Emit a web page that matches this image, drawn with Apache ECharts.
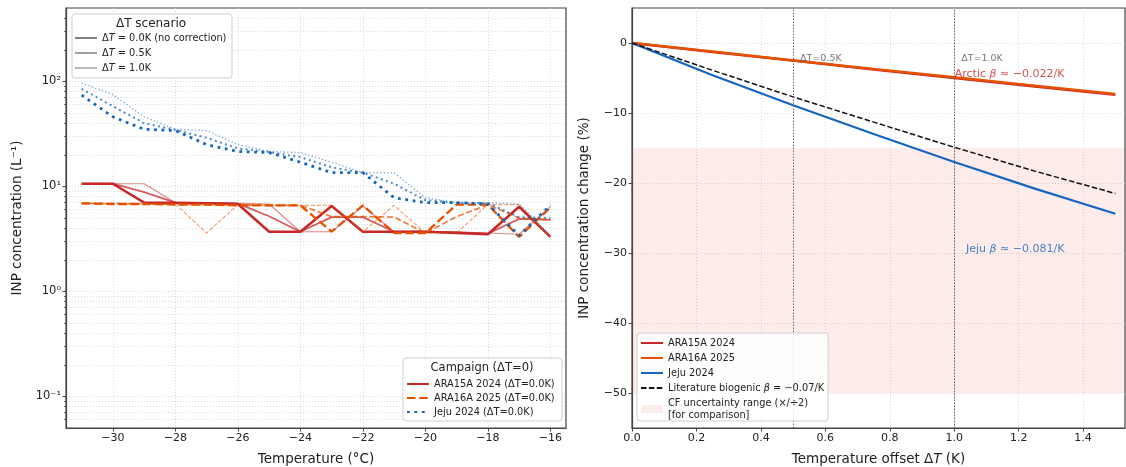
<!DOCTYPE html>
<html><head><meta charset="utf-8">
<script src="https://cdn.jsdelivr.net/npm/echarts@6/dist/echarts.min.js"></script>
<style>html,body{margin:0;padding:0;background:#fff}#c{width:1126px;height:467px}</style>
</head><body><div id="c"></div>
<script>
// ---------------- data ----------------
const temps = [-31,-30,-29,-28,-27,-26,-25,-24,-23,-22,-21,-20,-19,-18,-17,-16];
const ara15a_dT00 = [10.6,10.6,7.0,7.0,6.9,6.8,3.7,3.7,6.5,3.7,3.7,3.7,3.6,3.5,6.4,3.3];
const ara15a_dT05 = [10.6,10.6,8.8,7.0,6.95,6.85,5.2,3.7,5.1,5.1,3.7,3.7,3.65,3.55,4.9,4.8];
const ara15a_dT10 = [10.6,10.6,10.6,7.0,7.0,6.9,6.8,3.7,3.7,6.5,3.7,3.7,3.7,3.6,3.5,6.4];
const ara16a_dT00 = [6.9,6.8,6.8,6.7,6.7,6.6,6.6,6.6,3.7,6.6,3.6,3.6,6.7,6.7,3.3,6.3];
const ara16a_dT05 = [6.9,6.85,6.8,6.75,6.7,6.65,6.6,6.6,5.15,5.15,5.1,3.6,5.15,6.7,5.0,4.8];
const ara16a_dT10 = [6.9,6.9,6.8,6.8,3.6,6.7,6.6,6.6,6.6,3.7,6.6,3.6,3.6,6.7,6.7,3.3];
const jeju_dT00 = [74,46,35,34,25,21.5,21,17,13.5,13.5,7.8,7.0,7.0,6.8,3.4,6.6];
const jeju_dT05 = [85,58,40,34.5,29,23,21.2,19,15.2,13.5,10.6,7.4,7.0,6.9,5.1,5.0];
const jeju_dT10 = [96,75,46,35,34,25,21.5,21,17,13.5,13.5,7.8,7.0,7.0,6.8,3.4];

const dTOffsets = [0,0.25,0.5,0.75,1.0,1.25,1.5];
const ara15a_change = [0,-1.3,-2.5,-3.8,-5.0,-6.2,-7.4];
const ara16a_change = [0,-1.2,-2.5,-3.7,-4.9,-6.1,-7.3];
const jeju_change = [0,-4.6,-8.9,-13.0,-17.0,-20.8,-24.4];
const literature_change = [0,-3.9,-7.7,-11.3,-14.9,-18.3,-21.5];
const cfBand = [-15,-50];
const refLinesDT = [0.5,1.0];

const leftXTicks = [-30,-28,-26,-24,-22,-20,-18,-16];
const leftYMajor = [0.1,1,10,100];
const leftYMinor = [0.06,0.07,0.08,0.09,0.2,0.3,0.4,0.5,0.6,0.7,0.8,0.9,2,3,4,5,6,7,8,9,20,30,40,50,60,70,80,90,200,300,400];
const leftYLabels = {0.1:'10⁻¹',1:'10⁰',10:'10¹',100:'10²'};
const rightXTicks = [0,0.2,0.4,0.6,0.8,1.0,1.2,1.4];
const rightYTicks = [0,-10,-20,-30,-40,-50];

const annotTexts = ['ΔT=0.5K','ΔT=1.0K','Arctic {b|β} ≈ −0.022/K','Jeju {b|β} ≈ −0.081/K'];
const annotX = [0.52,1.02,1.0,1.035];
const annotY = [-2.2,-2.2,-4.4,-29.4];

// ---------------- styles ----------------
const RED='#c62828', ORANGE='#e65100', BLUE='#1565c0';
const FONT='DejaVu Sans';
const TXT='#222';
const SPINE='#444';
const TICKFS = 11;
const gridLine = {show:true, lineStyle:{type:[1,2], color:'#d2d2d2', width:0.8}};
const minus = v => String(v).replace('-', '−');

const scen = [{w:1, o:1}, {w:0.72, o:0.75}, {w:0.48, o:0.55}];
const campaigns = [
  {name:'ARA15A 2024 (ΔT=0.0K)', color:RED, dash:'solid', lw:2.5, sets:[ara15a_dT00, ara15a_dT05, ara15a_dT10]},
  {name:'ARA16A 2025 (ΔT=0.0K)', color:ORANGE, dash:'dashed', lw:2.3, sets:[ara16a_dT00, ara16a_dT05, ara16a_dT10]},
  {name:'Jeju 2024 (ΔT=0.0K)', color:BLUE, dash:'dotted', lw:2.8, sets:[jeju_dT00, jeju_dT05, jeju_dT10]}
];
function dashArr(kind, lw){
  if (kind==='dashed') return [3.7*lw, 1.6*lw];
  if (kind==='dotted') return [1*lw, 1.65*lw];
  return 'solid';
}
const series = [];
campaigns.forEach(c => {
  c.sets.forEach((vals, k) => {
    const lw = c.lw*scen[k].w;
    series.push({
      type:'line', name: k===0 ? c.name : c.name + '#' + k,
      xAxisIndex:0, yAxisIndex:0, symbol:'none', silent:true,
      data: temps.map((t,i)=>[t, vals[i]]),
      lineStyle:{color:c.color, width:lw, type:dashArr(c.dash,lw), cap:'butt', opacity:scen[k].o},
      itemStyle:{color:c.color}, z: 3
    });
  });
});
// dummy series for the ΔT scenario legend
['dT0','dT05','dT10'].forEach((n,k)=>{
  series.push({type:'line', name:n, xAxisIndex:0, yAxisIndex:0, symbol:'none', data:[],
    lineStyle:{color:'#808080', width:2.5*scen[k].w, opacity:scen[k].o}, itemStyle:{color:'#808080'}});
});
// right panel
series.push({type:'line', name:'cf', xAxisIndex:1, yAxisIndex:2, symbol:'none', data:[],
  itemStyle:{color:'rgba(244,67,54,0.1)'}, lineStyle:{width:0},
  markArea:{silent:true, itemStyle:{color:'rgba(244,67,54,0.1)'}, data:[[{yAxis:cfBand[0]},{yAxis:cfBand[1]}]]}});
const rightLines = [
  {name:'ARA15A 2024', data:ara15a_change, color:RED, w:2.5, type:'solid'},
  {name:'ARA16A 2025', data:ara16a_change, color:ORANGE, w:2.5, type:'solid'},
  {name:'Jeju 2024', data:jeju_change, color:BLUE, w:2.2, type:'solid'},
  {name:'lit', data:literature_change, color:'#111', w:1.5, type:[5.5,2.4]}
];
rightLines.forEach(r=>{
  series.push({type:'line', name:r.name, xAxisIndex:1, yAxisIndex:2, symbol:'none', silent:true,
    data:dTOffsets.map((x,i)=>[x, r.data[i]]),
    lineStyle:{color:r.color, width:r.w, type:r.type, cap:'butt'}, itemStyle:{color:r.color}, z:4});
});
series.push({type:'line', name:'refDT', xAxisIndex:1, yAxisIndex:2, symbol:'none', data:[],
  markLine:{silent:true, symbol:'none', label:{show:false}, animation:false,
    lineStyle:{color:'#666', type:[1.5,1.5], width:1},
    data: refLinesDT.map(v=>({xAxis:v}))}});
const annotStyles = [
  {color:'#555', fontSize:9.5}, {color:'#555', fontSize:9.5},
  {color:RED, fontSize:11}, {color:BLUE, fontSize:11}
];
series.push({type:'scatter', name:'annot', xAxisIndex:1, yAxisIndex:2, symbolSize:1, silent:true,
  itemStyle:{color:'transparent'}, z:6,
  data: annotTexts.map((t,i)=>({value:[annotX[i], annotY[i]],
    label:{show:true, position:'right', distance:0, formatter:t,
      color:annotStyles[i].color, fontSize:annotStyles[i].fontSize, fontFamily:FONT,
      rich:{b:{fontStyle:'italic', color:annotStyles[i].color, fontSize:annotStyles[i].fontSize, fontFamily:FONT}}}}))
});

const legendNames = {
  'dT0':'Δ{i|T} = 0.0K (no correction)', 'dT05':'Δ{i|T} = 0.5K', 'dT10':'Δ{i|T} = 1.0K',
  'lit':'Literature biogenic {i|β} = −0.07/K', 'cf':'CF uncertainty range (×/÷2)\n[for comparison]'
};
const legText = {fontSize:9.8, color:TXT, fontFamily:FONT, lineHeight:12,
  rich:{i:{fontStyle:'italic', fontSize:9.8, fontFamily:FONT, color:TXT, lineHeight:12}}};
const fmt = n => legendNames[n] || n;
const noSym = {opacity:0, borderWidth:0};

const option = {
  animation:false,
  textStyle:{fontFamily:FONT},
  grid:[
    {left:66, top:8, width:500, height:420, show:true, borderColor:SPINE, borderWidth:1.2, backgroundColor:'transparent', containLabel:false, outerBoundsMode:'none'},
    {left:632, top:8, width:493, height:420, show:true, borderColor:SPINE, borderWidth:1.2, backgroundColor:'transparent', containLabel:false, outerBoundsMode:'none'}
  ],
  xAxis:[
    {gridIndex:0, type:'value', min:-31.5, max:-15.5, position:'bottom',
     axisLine:{onZero:false, lineStyle:{color:SPINE, width:1.2}},
     axisTick:{show:true, length:3.5, customValues:leftXTicks, lineStyle:{color:SPINE}},
     axisLabel:{customValues:leftXTicks, formatter:v=>minus(v), color:TXT, fontSize:TICKFS, margin:5},
     splitLine:gridLine,
     name:'Temperature (°C)', nameLocation:'middle', nameGap:24, nameTextStyle:{fontSize:13.5, color:TXT}},
    {gridIndex:1, type:'value', min:0, max:1.53, position:'bottom',
     axisLine:{onZero:false, lineStyle:{color:SPINE, width:1.2}},
     axisTick:{show:true, length:3.5, customValues:rightXTicks, lineStyle:{color:SPINE}},
     axisLabel:{customValues:rightXTicks, formatter:v=>v.toFixed(1), color:TXT, fontSize:TICKFS, margin:5},
     splitLine:gridLine,
     name:'{n|Temperature offset Δ}{i|T}{n| (K)}', nameLocation:'middle', nameGap:24,
     nameTextStyle:{fontSize:13.5, color:TXT, rich:{n:{fontSize:13.5, color:TXT, fontFamily:FONT}, i:{fontSize:13.5, color:TXT, fontStyle:'italic', fontFamily:FONT}}}}
  ],
  yAxis:[
    {gridIndex:0, type:'log', min:0.05, max:500, position:'left', offset:0,
     axisLine:{onZero:false, lineStyle:{color:SPINE, width:1.2}},
     axisTick:{show:true, length:3.5, customValues:leftYMajor, lineStyle:{color:SPINE}},
     axisLabel:{customValues:leftYMajor, formatter:v=>leftYLabels[v] || '', color:TXT, fontSize:TICKFS+0.5, margin:5},
     splitLine:gridLine,
     name:'INP concentration (L⁻¹)', nameLocation:'middle', nameGap:42, nameTextStyle:{fontSize:13.5, color:TXT}},
    {gridIndex:0, type:'log', min:0.05, max:500, position:'left', offset:0,
     axisLine:{show:false, onZero:false},
     axisTick:{show:true, length:2, customValues:leftYMinor, lineStyle:{color:SPINE, width:0.8}},
     axisLabel:{show:false},
     splitLine:gridLine},
    {gridIndex:1, type:'value', min:-55, max:5, position:'left',
     axisLine:{onZero:false, lineStyle:{color:SPINE, width:1.2}},
     axisTick:{show:true, length:3.5, customValues:rightYTicks, lineStyle:{color:SPINE}},
     axisLabel:{customValues:rightYTicks, formatter:v=>minus(v), color:TXT, fontSize:TICKFS, margin:5},
     splitLine:gridLine,
     name:'INP concentration change (%)', nameLocation:'middle', nameGap:41, nameTextStyle:{fontSize:13.5, color:TXT}}
  ],
  legend:[
    {data:['dT0','dT05','dT10'], orient:'vertical', left:74, top:32, itemWidth:22, itemHeight:10, itemGap:3,
     padding:0, formatter:fmt, textStyle:legText, selectedMode:false, z:60, itemStyle:noSym},
    {data:['ARA15A 2024 (ΔT=0.0K)','ARA16A 2025 (ΔT=0.0K)','Jeju 2024 (ΔT=0.0K)'], orient:'vertical', left:406, top:378,
     itemWidth:22, itemHeight:10, itemGap:2, padding:0, formatter:fmt, textStyle:legText, selectedMode:false, z:60, itemStyle:noSym},
    {data:['ARA15A 2024','ARA16A 2025','Jeju 2024','lit',{name:'cf', icon:'rect', itemStyle:{color:'rgba(244,67,54,0.1)', opacity:1}}],
     orient:'vertical', left:640, top:337, itemWidth:22, itemHeight:8, itemGap:3, padding:0,
     formatter:fmt, textStyle:legText, selectedMode:false, z:60, itemStyle:noSym}
  ],
  graphic:[
    {type:'rect', z:50, shape:{x:72, y:14, width:160, height:64, r:3}, style:{fill:'rgba(255,255,255,0.85)', stroke:'#d0d0d0', lineWidth:1}},
    {type:'text', z:51, x:151, y:23.5, style:{text:'ΔT scenario', font:'12px "DejaVu Sans"', fill:TXT, align:'center', verticalAlign:'middle'}},
    {type:'rect', z:50, shape:{x:403, y:358, width:159, height:63, r:3}, style:{fill:'rgba(255,255,255,0.85)', stroke:'#d0d0d0', lineWidth:1}},
    {type:'text', z:51, x:482, y:368.5, style:{text:'Campaign (ΔT=0)', font:'11.5px "DejaVu Sans"', fill:TXT, align:'center', verticalAlign:'middle'}},
    {type:'rect', z:50, shape:{x:637, y:333, width:191, height:88, r:3}, style:{fill:'rgba(255,255,255,0.85)', stroke:'#d0d0d0', lineWidth:1}}
  ],
  series: series
};
const chart = echarts.init(document.getElementById('c'), null, {renderer:'canvas'});
chart.setOption(option);
</script>
</body></html>
